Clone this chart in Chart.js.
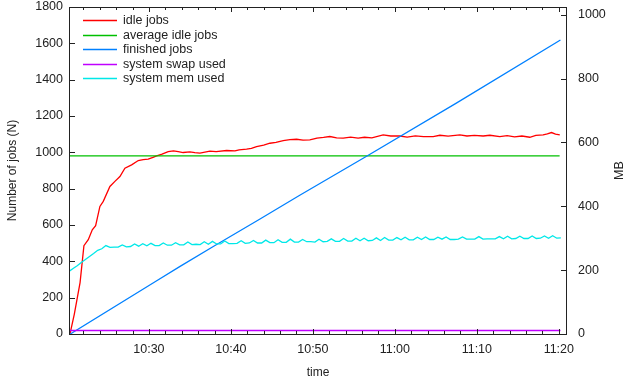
<!DOCTYPE html>
<html>
<head>
<meta charset="utf-8">
<script src="https://cdn.jsdelivr.net/npm/chart.js@4.4.0/dist/chart.umd.min.js"></script>
<style>
  html, body { margin: 0; padding: 0; background: #fff; }
</style>
</head>
<body>
<canvas id="myChart" width="626" height="379"></canvas>
<script>
'use strict';
// Data (minutes after 10:00 on the time axis)
let timeTickMinutes = [30, 40, 50, 60, 70, 80];
let timeTickLabels = ['10:30', '10:40', '10:50', '11:00', '11:10', '11:20'];
let minorTickMinutes = [22, 24, 26, 28, 32, 34, 36, 38, 42, 44, 46, 48, 52, 54, 56, 58, 62, 64, 66, 68, 72, 74, 76, 78];
let jobsTicks = [0, 200, 400, 600, 800, 1000, 1200, 1400, 1600, 1800];
let mbTicks = [0, 200, 400, 600, 800, 1000];

let idleTimes = [20.37, 20.9, 21.6, 22.07, 22.6, 23.09, 23.5, 24.02, 24.43, 25.24, 25.85, 26.46, 27.07, 27.89, 28.7, 29.3, 29.91,
  30.5, 30.94, 31.6, 32.35, 33.0, 33.57, 34.18, 35.0, 35.6, 36.22, 37.44, 38.2, 39.48, 40.5, 41.0, 41.91, 42.5, 43.13, 44.0,
  44.76, 45.5, 46.38, 47.2, 48.01, 48.8, 49.63, 50.5, 51.3, 52.07, 52.9, 53.7, 54.6, 55.52, 56.3, 57.2, 58.57, 59.5, 60.61,
  61.5, 62.5, 63.5, 64.67, 65.5, 66.5, 67.93, 68.8, 69.7, 70.77, 71.6, 72.8, 73.7, 74.6, 75.5, 76.46, 77.2, 78.09, 78.6,
  79.11, 79.6, 80.12];
let idleJobs = [0, 110, 283, 486, 519, 574, 596, 702, 730, 812, 840, 867, 913, 931, 955, 960, 963,
  972, 981, 990, 1004, 1008, 1004, 999, 1003, 998, 996, 1007, 1004, 1010, 1008, 1014, 1018, 1022, 1032, 1040,
  1050, 1055, 1065, 1070, 1072, 1067, 1069, 1078, 1082, 1087, 1080, 1078, 1084, 1078, 1083, 1080, 1096, 1090, 1090,
  1084, 1091, 1086, 1087, 1094, 1089, 1096, 1090, 1093, 1090, 1094, 1087, 1092, 1085, 1090, 1083, 1093, 1096, 1102,
  1109, 1100, 1096];

let avgTimes = [20.3, 80.1];
let avgIdleJobs = [981, 981];

let finishedTimes = [20.4, 30.9, 33.8, 37.8, 43.5, 48.4, 56.5, 67.5, 80.2];
let finishedJobs = [0, 292, 372, 480, 632, 764, 977, 1271, 1618];

let swapTimes = [20.3, 80.2];
let swapMB = [11, 11];

let memStart = 20.25; // first sample, then one every half minute
let memStep = 0.5;
let memMB = [
  196, 205, 214, 224, 233, 243, 252, 262, 267, 277,
  271, 272, 272, 279, 273, 274, 282, 275, 283, 276,
  284, 277, 277, 285, 278, 278, 286, 279, 279, 288,
  280, 281, 280, 289, 281, 290, 282, 282, 291, 283,
  283, 284, 292, 284, 285, 293, 285, 285, 294, 286,
  286, 295, 287, 287, 297, 288, 288, 296, 289, 289,
  288, 297, 289, 290, 298, 290, 290, 299, 291, 291,
  300, 292, 300, 292, 293, 301, 293, 302, 294, 294,
  302, 295, 303, 295, 295, 303, 296, 304, 296, 296,
  303, 297, 304, 296, 296, 297, 304, 297, 297, 297,
  305, 297, 298, 298, 298, 305, 298, 306, 298, 299,
  306, 299, 299, 307, 299, 300, 307, 300, 308, 300,
  301
];

function pairs(xs, ys) {
  return ys.map((y, i) => ({ x: xs[i], y: y }));
}
let memPoints = memMB.map((y, i) => ({ x: memStart + i * memStep, y: y }));

let fontFamily = '"Liberation Sans", Arial, sans-serif';
let textColor = '#222';

// box border, inward ticks, legend and right title
let gnuFrame = {
  id: 'gnuFrame',
  afterDatasetsDraw(chart) {
    let ctx = chart.ctx;
    let a = chart.chartArea;
    let sx = chart.scales.x;
    let sy = chart.scales.y;
    let sy2 = chart.scales.y2;
    ctx.save();
    ctx.strokeStyle = '#222';
    ctx.lineWidth = 1;
    ctx.strokeRect(Math.round(a.left) + 0.5, Math.round(a.top) + 0.5,
      Math.round(a.right - a.left) - 1, Math.round(a.bottom - a.top));
    ctx.beginPath();
    let drawX = (m, len) => {
      let px = Math.round(sx.getPixelForValue(m)) + 0.5;
      ctx.moveTo(px, a.bottom); ctx.lineTo(px, a.bottom - len);
      ctx.moveTo(px, a.top); ctx.lineTo(px, a.top + len);
    };
    timeTickMinutes.forEach(m => drawX(m, 5));
    minorTickMinutes.forEach(m => drawX(m, 3));
    jobsTicks.forEach(v => {
      let py = Math.round(sy.getPixelForValue(v)) + 0.5;
      ctx.moveTo(a.left, py); ctx.lineTo(a.left + 6, py);
    });
    mbTicks.forEach(v => {
      let py = Math.round(sy2.getPixelForValue(v)) + 0.5;
      ctx.moveTo(a.right, py); ctx.lineTo(a.right - 6, py);
    });
    ctx.stroke();

    // legend
    ctx.font = '12.5px ' + fontFamily;
    ctx.textBaseline = 'middle';
    ctx.textAlign = 'left';
    ctx.lineWidth = 1.3;
    chart.data.datasets.forEach((ds, i) => {
      let y = Math.round(a.top + 13 + i * 14.6) + 0.5;
      ctx.strokeStyle = ds.borderColor;
      ctx.beginPath();
      ctx.moveTo(a.left + 14, y);
      ctx.lineTo(a.left + 48, y);
      ctx.stroke();
      ctx.fillStyle = textColor;
      ctx.fillText(ds.label, a.left + 54, y);
    });

    // right axis title
    ctx.translate(620, (a.top + a.bottom) / 2);
    ctx.rotate(-Math.PI / 2);
    ctx.textAlign = 'center';
    ctx.fillText('MB', 0, 0);
    ctx.restore();
  }
};

let noPad = s => { s.paddingTop = 0; s.paddingBottom = 0; s.paddingLeft = 0; s.paddingRight = 0; };
let tickFont = { family: fontFamily, size: 12.5 };
let ctx = document.getElementById('myChart').getContext('2d');
let myChart = new Chart(ctx, {
  type: 'line',
  data: {
    datasets: [
      { label: 'idle jobs', data: pairs(idleTimes, idleJobs), borderColor: '#ff0000', yAxisID: 'y', order: 5 },
      { label: 'average idle jobs', data: pairs(avgTimes, avgIdleJobs), borderColor: '#00c000', yAxisID: 'y', order: 4 },
      { label: 'finished jobs', data: pairs(finishedTimes, finishedJobs), borderColor: '#0080ff', yAxisID: 'y', order: 3 },
      { label: 'system swap used', data: pairs(swapTimes, swapMB), borderColor: '#c000ff', yAxisID: 'y2', order: 2 },
      { label: 'system mem used', data: memPoints, borderColor: '#00e8e8', yAxisID: 'y2', order: 1 }
    ]
  },
  options: {
    responsive: false,
    animation: false,
    layout: { padding: { top: 7, left: 0, right: 0, bottom: 0 } },
    elements: {
      point: { radius: 0 },
      line: { borderWidth: 1.3, tension: 0 }
    },
    plugins: { legend: { display: false }, tooltip: { enabled: false } },
    scales: {
      x: {
        type: 'linear',
        min: 20.25,
        max: 81,
        grid: { display: false, drawTicks: false },
        border: { display: false },
        ticks: {
          padding: 8,
          color: textColor,
          font: tickFont,
          maxRotation: 0,
          callback: (v, i) => timeTickLabels[i]
        },
        afterBuildTicks: s => { s.ticks = timeTickMinutes.map(v => ({ value: v })); },
        afterFit: s => { s.height = 45; noPad(s); },
        title: { display: true, text: 'time', color: textColor, font: { family: fontFamily, size: 12, lineHeight: 1 }, padding: { top: 0, bottom: 0 } }
      },
      y: {
        position: 'left',
        min: 0,
        max: 1800,
        grid: { display: false, drawTicks: false },
        border: { display: false },
        ticks: { padding: 6, color: textColor, font: tickFont, callback: v => String(v) },
        afterBuildTicks: s => { s.ticks = jobsTicks.map(v => ({ value: v })); },
        afterFit: s => { s.width = 69; noPad(s); },
        title: { display: true, text: 'Number of jobs (N)', color: textColor, font: { family: fontFamily, size: 12, lineHeight: 1 }, padding: { top: 7, bottom: 0 } }
      },
      y2: {
        position: 'right',
        min: 0,
        max: 1024,
        grid: { display: false, drawTicks: false },
        border: { display: false },
        ticks: { padding: 11, color: textColor, font: tickFont, callback: v => String(v) },
        afterBuildTicks: s => { s.ticks = mbTicks.map(v => ({ value: v })); },
        afterFit: s => { s.width = 59; noPad(s); }
      }
    }
  },
  plugins: [gnuFrame]
});
</script>
</body>
</html>
